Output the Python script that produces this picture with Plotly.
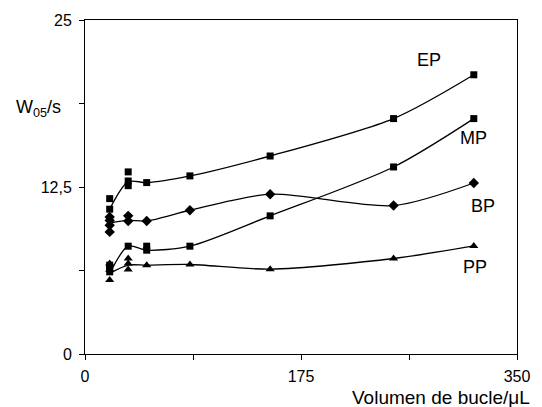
import plotly.graph_objects as go

# Loop volume (µL) for the mean curves
volumes = [20, 35, 50, 85, 150, 250, 315]

# Mean W05 (s) per series (line)
ep_mean = [10.84, 12.9, 12.83, 13.33, 14.82, 17.62, 20.9]
mp_mean = [6.03, 8.07, 7.77, 8.07, 10.34, 14.0, 17.62]
bp_mean = [9.8, 10.0, 9.96, 10.76, 11.96, 11.11, 12.8]
pp_mean = [6.03, 6.65, 6.65, 6.70, 6.35, 7.15, 8.09]

# Replicate measurements (markers)
ep_x = [20, 20, 35, 35, 35, 50, 85, 150, 250, 315]
ep_y = [11.63, 10.84, 13.63, 12.95, 12.6, 12.83, 13.33, 14.82, 17.62, 20.9]
mp_x = [20, 20, 20, 35, 50, 50, 85, 150, 250, 315]
mp_y = [6.65, 6.4, 6.15, 8.07, 8.07, 7.77, 8.07, 10.34, 14.0, 17.62]
bp_x = [20, 20, 20, 20, 35, 35, 50, 85, 150, 250, 315]
bp_y = [10.26, 10.0, 9.64, 9.14, 10.34, 9.96, 9.96, 10.76, 11.96, 11.11, 12.8]
pp_x = [20, 20, 20, 35, 35, 35, 50, 85, 150, 250, 315]
pp_y = [6.78, 6.3, 5.53, 7.15, 6.78, 6.33, 6.65, 6.70, 6.35, 7.15, 8.09]

series_names = ["EP", "MP", "BP", "PP"]
label_x = [279, 314.6, 322.5, 316.2]
label_y = [21.97, 16.14, 11.06, 6.5]

FONT = "Arial, Liberation Sans, sans-serif"

fig = go.Figure()

series = [
    ("EP", ep_mean, ep_x, ep_y, "square", 7),
    ("MP", mp_mean, mp_x, mp_y, "square", 7),
    ("BP", bp_mean, bp_x, bp_y, "diamond", 8),
    ("PP", pp_mean, pp_x, pp_y, "triangle-up", 8),
]

for name, mean, rx, ry, sym, sz in series:
    fig.add_trace(go.Scatter(
        x=volumes, y=mean, mode="lines", name=name,
        line=dict(color="black", width=1.3, shape="spline", smoothing=0.8),
        showlegend=False, hoverinfo="skip"))
    fig.add_trace(go.Scatter(
        x=rx, y=ry, mode="markers", name=name,
        marker=dict(symbol=sym, size=sz, color="black", line=dict(width=0)),
        showlegend=False))

for name, lx, ly in zip(series_names, label_x, label_y):
    fig.add_annotation(x=lx, y=ly, text=name, showarrow=False,
                       xanchor="center", yanchor="middle",
                       font=dict(family=FONT, size=18, color="black"))

fig.add_annotation(xref="paper", yref="paper", x=-0.05, y=0.735,
                   text="W<sub>05</sub>/s", showarrow=False,
                   xanchor="right", yanchor="middle",
                   font=dict(family=FONT, size=18, color="black"))

fig.add_annotation(xref="paper", yref="paper", x=1.035, y=-0.131,
                   text="Volumen de bucle/μL", showarrow=False,
                   xanchor="right", yanchor="middle",
                   font=dict(family=FONT, size=19, color="black"))

fig.update_xaxes(range=[0, 350], tickvals=[0, 87.5, 175, 262.5, 350],
                 ticktext=["0", "", "175", "", "350"],
                 ticks="outside", ticklen=5, tickcolor="black",
                 showline=True, linecolor="black", linewidth=1, mirror=True,
                 showgrid=False, zeroline=False, ticklabelstandoff=3,
                 tickfont=dict(family=FONT, size=16, color="black"))
fig.update_yaxes(range=[0, 25], tickvals=[0, 6.25, 12.5, 18.75, 25],
                 ticktext=["0", "", "12,5", "", "25"],
                 ticks="outside", ticklen=5, tickcolor="black",
                 showline=True, linecolor="black", linewidth=1, mirror=True,
                 showgrid=False, zeroline=False, ticklabelstandoff=4,
                 tickfont=dict(family=FONT, size=16, color="black"))

fig.update_layout(width=542, height=407,
                  margin=dict(l=85, r=15, t=20, b=53),
                  paper_bgcolor="white", plot_bgcolor="white",
                  font=dict(family=FONT, color="black"))

fig.write_html("out.html", config={"displayModeBar": False},
               post_script="document.body.style.margin='0';"
                           "document.body.style.overflow='hidden';")
